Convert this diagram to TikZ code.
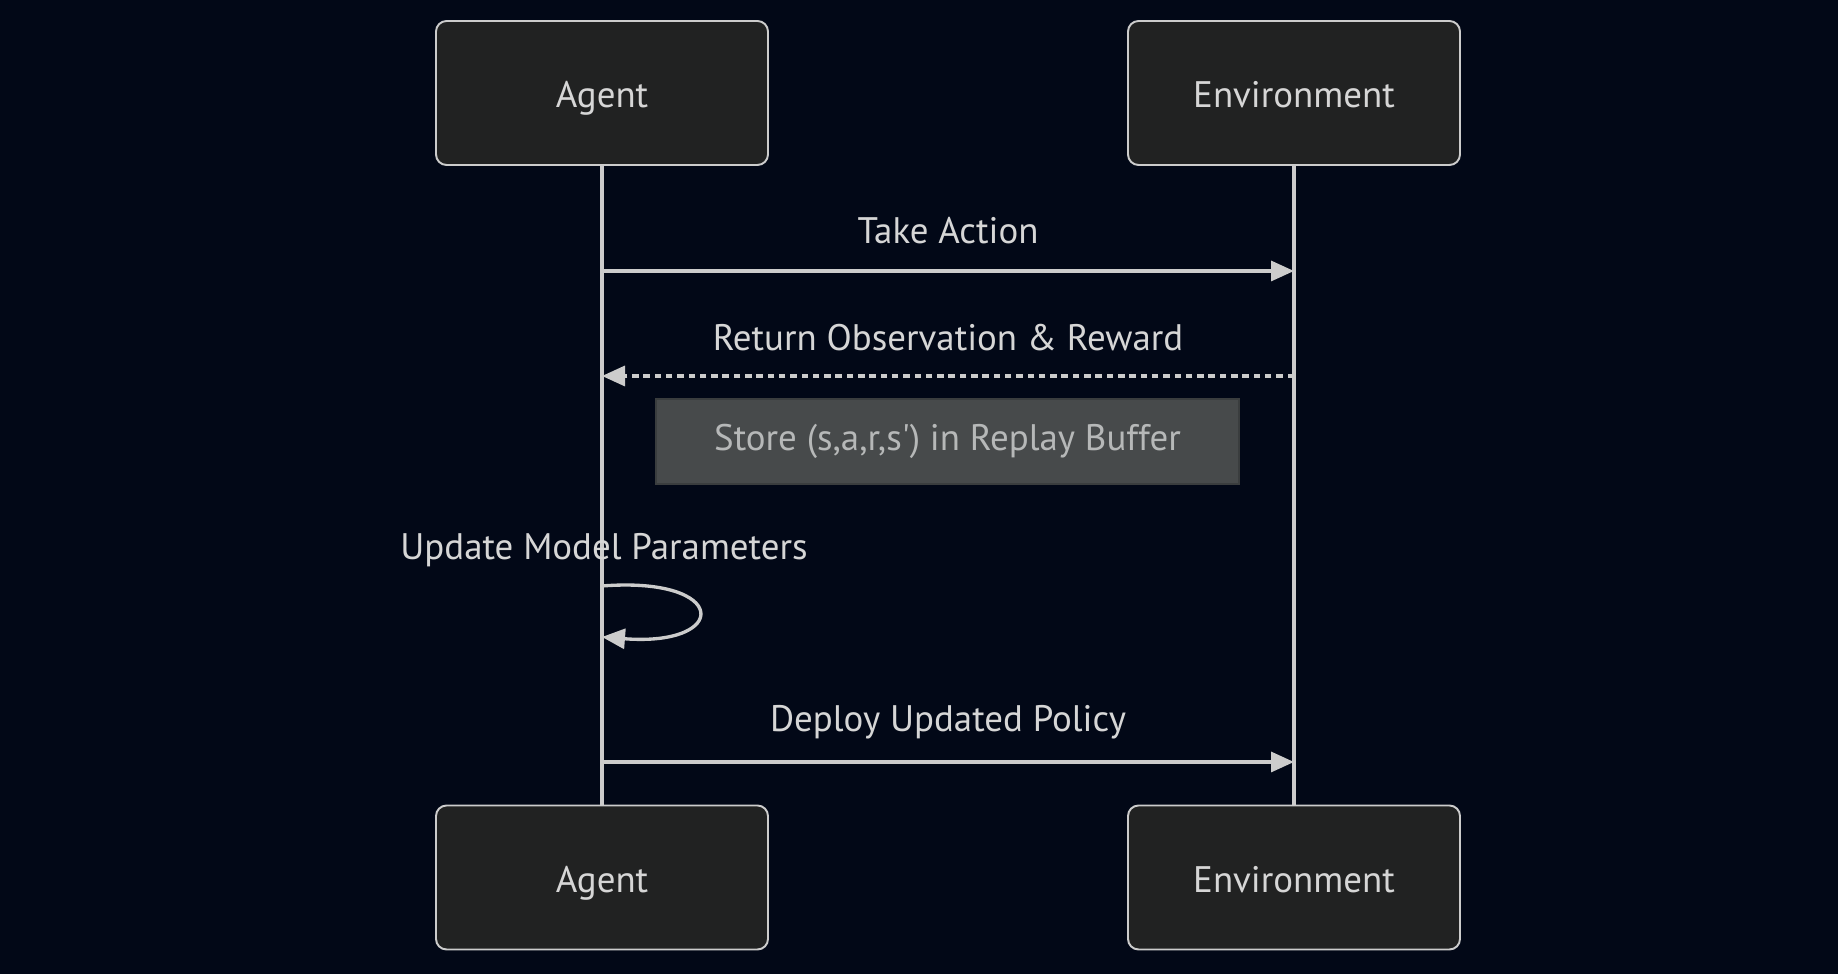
\documentclass[tikz,border=0pt]{standalone}
\usepackage{fontspec}
\setmainfont{PT Sans}
\usetikzlibrary{arrows.meta,positioning}
\definecolor{bgnavy}{RGB}{2,8,23}
\definecolor{boxfill}{RGB}{33,34,34}
\definecolor{lineclr}{RGB}{204,204,204}
\definecolor{txtclr}{RGB}{214,214,214}
\definecolor{notefill}{RGB}{71,74,75}
\definecolor{notedraw}{RGB}{58,61,62}
\definecolor{notetxt}{RGB}{182,184,184}
\tikzset{
  actor/.style = {draw=lineclr, fill=boxfill, rounded corners=3pt,
    line width=0.55pt, minimum width=3.32cm, minimum height=1.44cm,
    text height=2.0ex, text depth=0.3ex,
    text=txtclr, font=\fontsize{10.5}{12}\selectfont},
  lifeline/.style = {draw=lineclr, line width=1.05pt},
  msg/.style = {draw=lineclr, line width=0.95pt,
    -{Triangle[length=0.23cm,width=0.2cm]}},% message
  reply/.style = {msg, dash pattern=on 0.065cm off 0.048cm},% dashed return
  note/.style = {draw=notedraw, fill=notefill, line width=0.6pt,
    minimum width=5.83cm, minimum height=0.85cm, text=notetxt,
    font=\fontsize{10.5}{12}\selectfont},
  lbl/.style = {text=txtclr, font=\fontsize{10.5}{12}\selectfont}
}
\begin{document}
\begin{tikzpicture}
  \fill[bgnavy] (0,0) rectangle (18.38,-9.74);
  \useasboundingbox (0,0) rectangle (18.38,-9.74);
  % participants
  \node[actor] (agentTop) at (6.02,-0.93) {Agent};
  \node[actor] (envTop) at (12.94,-0.93) {Environment};
  \node[actor] (agentBot) at (6.02,-8.775) {Agent};
  \node[actor] (envBot) at (12.94,-8.775) {Environment};
  \draw[lifeline] (agentTop) -- (agentBot);
  \draw[lifeline] (envTop) -- (envBot);
  % messages
  \coordinate (a1) at (agentTop.south |- 0,-2.71);
  \coordinate (e1) at (envTop.south |- 0,-2.71);
  \node[lbl] (takeLbl) at (9.48,-2.31) {Take Action};
  \draw[msg] (a1) -- (e1);
  \coordinate (e2) at (envTop.south |- 0,-3.76);
  \coordinate (a2) at (agentTop.south |- 0,-3.76);
  \node[lbl] (obsLbl) at (9.48,-3.38) {Return Observation \& Reward};
  \draw[reply] (e2) -- (a2);
  \node[note] (store) at (9.475,-4.415)
    {Store (s,a,r,s\textquotesingle) in Replay Buffer};
  % self call
  \node[lbl] (updLbl) at (6.04,-5.50) {Update Model Parameters};
  \coordinate (s1) at (agentTop.south |- 0,-5.86);
  \coordinate (s2) at (agentTop.south |- 0,-6.37);
  \draw[msg] (s1) .. controls (7.3,-5.76) and (7.3,-6.47) .. (s2);
  \coordinate (a3) at (agentTop.south |- 0,-7.62);
  \coordinate (e3) at (envTop.south |- 0,-7.62);
  \node[lbl] (depLbl) at (9.48,-7.22) {Deploy Updated Policy};
  \draw[msg] (a3) -- (e3);
\end{tikzpicture}
\end{document}
